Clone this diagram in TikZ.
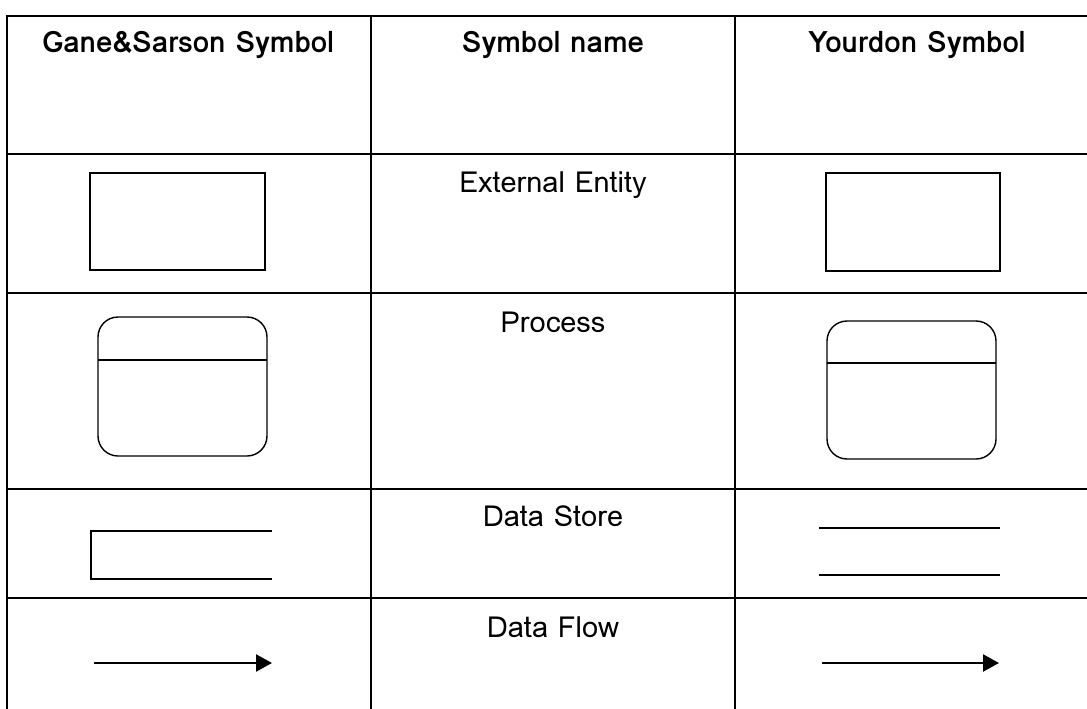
\documentclass[tikz,border=0pt]{standalone}
\usepackage{fontspec}
\setmainfont{Loma}
\usetikzlibrary{arrows.meta}
\tikzset{
  grid/.style={line width=2pt},
  shp/.style={draw, line width=1.4pt, inner sep=0pt, outer sep=0pt},
  hdr/.style={anchor=base, font=\fontsize{29.5}{33}\selectfont\bfseries, inner sep=0pt},
  lbl/.style={anchor=base, font=\fontsize{29}{33}\selectfont, inner sep=0pt},
  flow/.style={line width=2.2pt, -{Triangle[length=16pt,width=17pt]}},
}
\begin{document}
\begin{tikzpicture}[x=1pt,y=-1pt]
\useasboundingbox (0,0) rectangle (1087,709);
% table grid
\draw[grid] (7,709) -- (7,16) -- (1087,16);
\draw[grid] (371,16) -- (371,709);
\draw[grid] (735,16) -- (735,709);
\draw[grid] (7,154) -- (1087,154);
\draw[grid] (7,293) -- (1087,293);
\draw[grid] (7,489) -- (1087,489);
\draw[grid] (7,598) -- (1087,598);
% headers
\node[hdr] (h1) at (188,53) {Gane\&Sarson Symbol};
\node[hdr] (h2) at (553,53) {Symbol name};
\node[hdr] (h3) at (917,53) {Yourdon Symbol};
% labels
\node[lbl] (l1) at (553,192) {External Entity};
\node[lbl] (l2) at (553,332) {Process};
\node[lbl] (l3) at (553,526) {Data Store};
\node[lbl] (l4) at (553,637) {Data Flow};
% external entity
\node[shp, minimum width=175pt, minimum height=97pt] (gee) at (177.5,221.5) {};
\node[shp, minimum width=174pt, minimum height=98pt] (yee) at (913,222) {};
% process
\node[shp, rounded corners=20pt, minimum width=169pt, minimum height=139pt] (gp) at (182.5,386.5) {};
\draw[line width=1.4pt] ([yshift=-43pt]gp.north west) -- ([yshift=-43pt]gp.north east);
\node[shp, rounded corners=20pt, minimum width=169pt, minimum height=138pt] (yp) at (911.5,390) {};
\draw[line width=1.4pt] ([yshift=-42pt]yp.north west) -- ([yshift=-42pt]yp.north east);
% data store
\coordinate (gs1) at (272,531);
\coordinate (gs2) at (91,531);
\coordinate (gs3) at (91,579);
\coordinate (gs4) at (272,579);
\draw[line width=1.4pt] (gs1) -- (gs2) -- (gs3) -- (gs4);
\coordinate (ys1) at (819,528);
\coordinate (ys2) at (1000,528);
\coordinate (ys3) at (819,575);
\coordinate (ys4) at (1000,575);
\draw[line width=1.4pt] (ys1) -- (ys2);
\draw[line width=1.4pt] (ys3) -- (ys4);
% data flow
\coordinate (gf1) at (94,663);
\coordinate (gf2) at (272,663);
\draw[flow] (gf1) -- (gf2);
\coordinate (yf1) at (822,663);
\coordinate (yf2) at (999,663);
\draw[flow] (yf1) -- (yf2);
\end{tikzpicture}
\end{document}
